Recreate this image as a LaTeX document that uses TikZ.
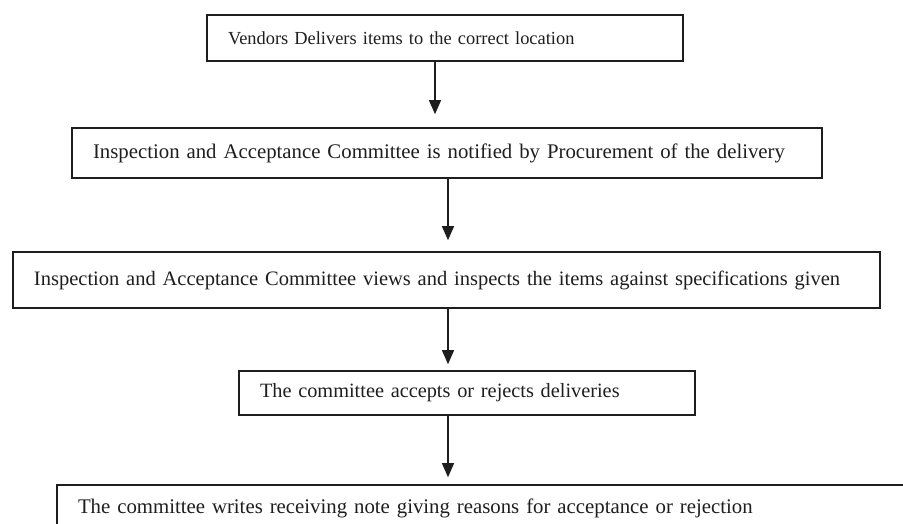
\documentclass[tikz,border=0pt]{standalone}
\usepackage{fontspec}
\setmainfont{Liberation Serif}
\usetikzlibrary{arrows.meta}
\definecolor{ink}{HTML}{1E1E1E}

\begin{document}
\begin{tikzpicture}[
    x=1pt, y=-1pt,
    box/.style={rectangle, draw=ink, line width=1.6pt, inner xsep=21pt, inner ysep=0pt,
                align=left, text=ink, font=\fontsize{20.8}{24}\selectfont},
    arrow/.style={-{Triangle[length=14pt,width=12pt]}, line width=1.2pt, draw=ink}
]
\useasboundingbox (0,0) rectangle (903,524);
\clip (0,0) rectangle (903,524);

% Nodes
\node[box, text width=434pt, minimum height=46pt, font=\fontsize{18.4}{22}\selectfont]
    (vendor) at (445,38) {Vendors Delivers items to the correct location};
\node[box, text width=708pt, minimum height=50pt]
    (notified) at (447,153) {Inspection and Acceptance Committee is notified by Procurement of the delivery};
\node[box, text width=825pt, minimum height=56pt, font=\fontsize{20.5}{24}\selectfont]
    (inspect) at (446.5,280) {Inspection and Acceptance Committee views and inspects the items against specifications given};
\node[box, text width=414pt, minimum height=44pt, font=\fontsize{20.3}{23}\selectfont]
    (decide) at (467,393) {The committee accepts or rejects deliveries};
\node[box, text width=821pt, minimum height=46pt]
    (note) at (488.5,508) {The committee writes receiving note giving reasons for acceptance or rejection};

% Arrows
\coordinate (colA) at (435,0);
\coordinate (colB) at (448,0);
\draw[arrow, shorten >=13pt] (vendor.south -| colA) -- (notified.north -| colA);
\draw[arrow, shorten >=11pt] (notified.south -| colB) -- (inspect.north -| colB);
\draw[arrow, shorten >=6pt] (inspect.south -| colB) -- (decide.north -| colB);
\draw[arrow, shorten >=7pt] (decide.south -| colB) -- (note.north -| colB);
\end{tikzpicture}
\end{document}
